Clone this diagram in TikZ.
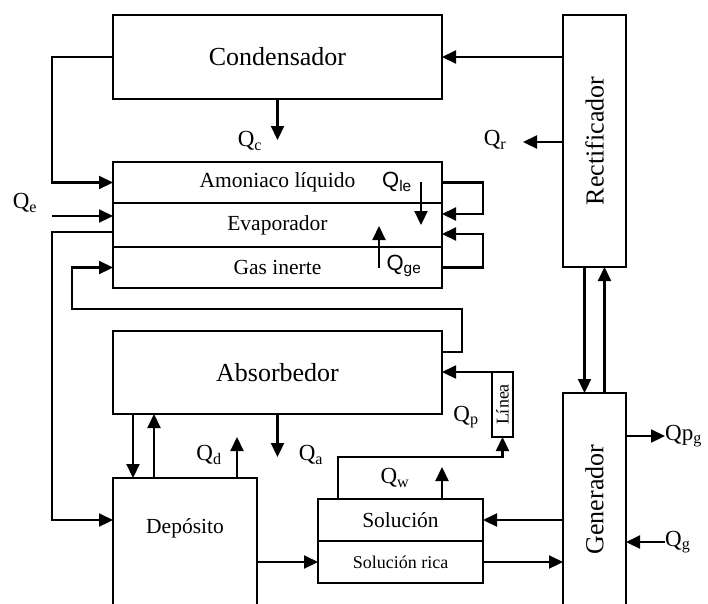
\documentclass[tikz,border=0pt]{standalone}
\usepackage{fontspec}
\setmainfont{Liberation Serif}
\newfontfamily\lblsans{Liberation Sans}
\usetikzlibrary{arrows.meta, positioning, calc}

\tikzset{
  box/.style={draw, line width=2.2pt, inner sep=0pt, outer sep=0pt},
  flow/.style={-{Triangle[length=14pt,width=13pt]}, line width=2.2pt},
  qlbl/.style={font=\fontsize{23}{24}\selectfont, inner sep=0pt},
  qsans/.style={font=\lblsans\fontsize{22}{24}\selectfont, inner sep=0pt},
  big/.style={font=\fontsize{26}{28}\selectfont},
  mid/.style={font=\fontsize{21.5}{24}\selectfont},
}

\begin{document}
\begin{tikzpicture}[x=1pt, y=-1pt]
  \useasboundingbox (0,0) rectangle (708,603);

  % Condensador y rectificador
  \node[box, big, minimum width=329pt, minimum height=84pt] (cond) at (277.5,57) {Condensador};
  \node[box, big, minimum width=63pt, minimum height=252pt] (rect) at (594.5,141) {\rotatebox{90}{Rectificador}};

  % Evaporador
  \node[box, mid, minimum width=329pt, minimum height=41pt] (liq) at (277.5,182.5) {Amoniaco líquido};
  \node[box, mid, minimum width=329pt, minimum height=44pt, below=0pt of liq] (evap) {Evaporador};
  \node[box, mid, minimum width=329pt, minimum height=41pt, below=0pt of evap] (gas) {Gas inerte};

  % Absorbedor, deposito, solucion
  \node[box, big, minimum width=329pt, minimum height=83pt] (abs) at (277.5,372.5) {Absorbedor};
  \node[box, minimum width=144pt, minimum height=142pt,
        label={[mid, yshift=21pt]center:Depósito}] (dep) at (185,549) {};
  \node[box, mid, minimum width=165pt, minimum height=42pt] (sol) at (400.5,520) {Solución};
  \node[box, font=\fontsize{18}{20}\selectfont, minimum width=165pt, minimum height=42pt, below=0pt of sol] (rica) {Solución rica};
  \node[box, font=\fontsize{18}{20}\selectfont, minimum width=21pt, minimum height=65pt] (linea) at (502.5,404.5) {\rotatebox{90}{Línea}};
  \node[box, big, minimum width=63pt, minimum height=213pt] (gen) at (594.5,499.5) {\rotatebox{90}{Generador}};

  % Condensador
  \draw[flow] (rect.west |- cond.east) -- (cond.east);
  \draw[flow] (cond.west) -- ++(-61,0) |- (liq.west);
  \draw[flow] (cond.south) -- ++(0,41);
  \node[qlbl] at (250,141) {Q\textsubscript{c}};
  \coordinate (qr) at (523,142);
  \draw[flow] (rect.west |- qr) -- (qr);
  \node[qlbl] at (495,140) {Q\textsubscript{r}};

  % entradas al evaporador
  \coordinate (qe) at (52,216);
  \draw[flow] (qe) -- (qe -| evap.west);
  \node[qlbl] at (25,203) {Q\textsubscript{e}};
  \draw[flow] (evap.west |- 0,232) -- (52,232) |- (dep.west |- 0,520);
  \draw[flow] (abs.east |- 0,352) -- (462,352) -- (462,309) -- (72,309) |- (gas.west);
  \draw[flow] (liq.east) -- ++(41,0) |- ([yshift=11pt]evap.east);
  \draw[flow] (gas.east) -- ++(41,0) |- ([yshift=-9pt]evap.east);
  \coordinate (qle) at (421,182);
  \draw[flow] (qle) -- ++(0,43);
  \node[qsans] at (397,182) {Q\textsubscript{le}};
  \coordinate (qge) at (379,268);
  \draw[flow] (qge) -- ++(0,-42);
  \node[qsans] at (404,266) {Q\textsubscript{ge}};

  % Absorbedor y deposito
  \draw[flow] ([xshift=20pt]abs.south west) -- ([xshift=20pt]dep.north west);
  \draw[flow] ([xshift=41pt]dep.north west) -- ([xshift=41pt]abs.south west);
  \draw[flow] ([xshift=124pt]dep.north west) -- ++(0,-41);
  \node[qlbl] at (209,455) {Q\textsubscript{d}};
  \draw[flow] (abs.south) -- ++(0,43);
  \node[qlbl] at (311,455) {Q\textsubscript{a}};
  \draw[flow] (dep.east |- rica.west) -- (rica.west);

  % Linea y solucion
  \draw[flow] (linea.north west) -- (linea.north west -| abs.east);
  \draw[flow] ([xshift=20pt]sol.north west) -- ++(0,-42) -| (linea.south);
  \node[qlbl] at (466,417) {Q\textsubscript{p}};
  \draw[flow] ([xshift=41.5pt]sol.north) -- ++(0,-32);
  \node[qlbl] at (395,478) {Q\textsubscript{w}};

  % Generador
  \draw[flow] (gen.west |- sol.east) -- (sol.east);
  \draw[flow] (rica.east) -- (rica.east -| gen.west);
  \draw[flow] ([xshift=-10pt]rect.south) -- ([xshift=-10pt]gen.north);
  \draw[flow] ([xshift=10pt]gen.north) -- ([xshift=10pt]rect.south);
  \coordinate (qpg) at (665,436);
  \draw[flow] (qpg -| gen.east) -- (qpg);
  \node[qlbl, anchor=west] at (qpg) {Qp\textsubscript{g}};
  \coordinate (qg) at (665,542);
  \draw[flow] (qg) -- (qg -| gen.east);
  \node[qlbl, anchor=west] at (qg) {Q\textsubscript{g}};
\end{tikzpicture}
\end{document}
